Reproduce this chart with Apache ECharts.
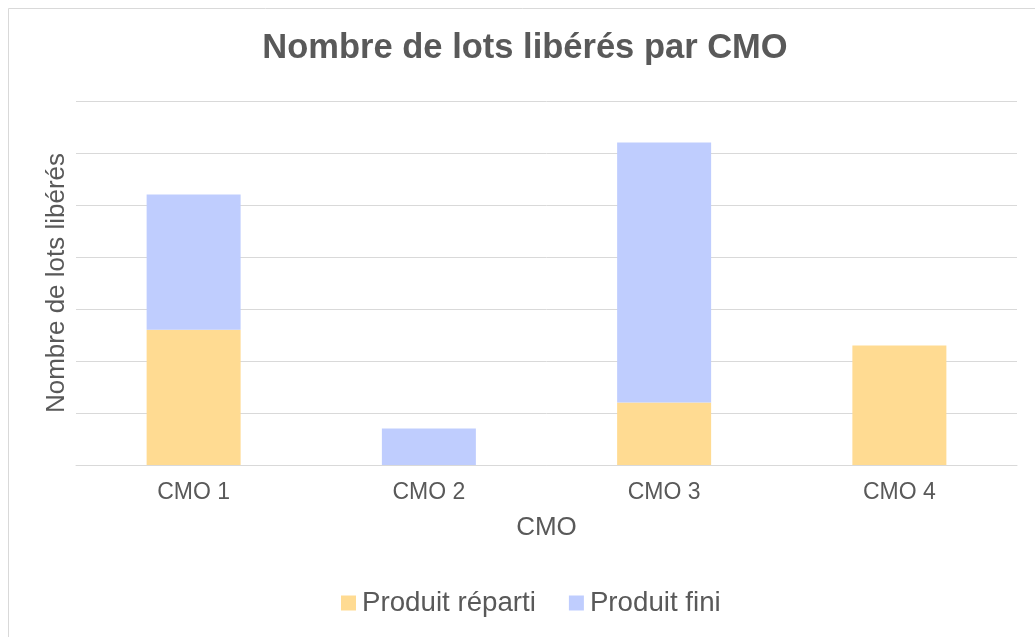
<!DOCTYPE html>
<html>
<head>
<meta charset="utf-8">
<script src="https://cdn.jsdelivr.net/npm/echarts@6/dist/echarts.min.js"></script>
<style>
html,body{margin:0;padding:0;background:#fff;}
#chart{width:1035px;height:637px;}
</style>
</head>
<body>
<div id="chart"></div>
<script>
const categories = ['CMO 1', 'CMO 2', 'CMO 3', 'CMO 4'];
const produitReparti = [26, null, 12, 23];
const produitFini = [26, 7, 50, null];
const seriesNames = ['Produit réparti', 'Produit fini'];

const FONT = '"Liberation Sans", Arial, sans-serif';
const TXT = '#595959';
const chart = echarts.init(document.getElementById('chart'));
chart.setOption({
  animation: false,
  backgroundColor: '#fff',
  graphic: [{
    type: 'rect', left: 8, top: 8, z: -1,
    shape: { width: 1100, height: 700 },
    style: { fill: '#fff', stroke: '#D9D9D9', lineWidth: 1 }
  }],
  title: {
    text: 'Nombre de lots libérés par CMO',
    left: 525, top: 31, textAlign: 'center', padding: 0,
    textStyle: { fontFamily: FONT, fontSize: 34.5, fontWeight: 'bold', color: TXT }
  },
  legend: {
    data: seriesNames,
    left: 341, top: 589,
    padding: 0,
    itemWidth: 15, itemHeight: 15, itemGap: 33,
    icon: 'rect',
    textStyle: { fontFamily: FONT, fontSize: 27.7, color: TXT, padding: [0, 0, 0, 1] }
  },
  grid: { left: 76, right: 18, top: 101, bottom: 172 },
  xAxis: {
    type: 'category',
    data: categories,
    name: 'CMO',
    nameLocation: 'middle',
    nameGap: 50,
    nameTextStyle: { fontFamily: FONT, fontSize: 26, color: TXT },
    axisTick: { show: false },
    axisLine: { lineStyle: { color: '#D9D9D9', width: 1 } },
    axisLabel: { fontFamily: FONT, fontSize: 23, color: TXT, margin: 16 }
  },
  yAxis: {
    type: 'value',
    min: 0, max: 70, interval: 10,
    name: 'Nombre de lots libérés',
    nameLocation: 'middle',
    nameGap: 6,
    nameTextStyle: { fontFamily: FONT, fontSize: 26, color: TXT },
    axisLabel: { show: false },
    axisTick: { show: false },
    axisLine: { show: false },
    splitLine: { lineStyle: { color: '#D9D9D9', width: 1 } }
  },
  series: [
    {
      name: seriesNames[0], type: 'bar', stack: 'total',
      data: produitReparti, barWidth: 94,
      itemStyle: { color: '#FFDB92' }
    },
    {
      name: seriesNames[1], type: 'bar', stack: 'total',
      data: produitFini, barWidth: 94,
      itemStyle: { color: '#BFCDFE' }
    }
  ]
});
</script>
</body>
</html>
